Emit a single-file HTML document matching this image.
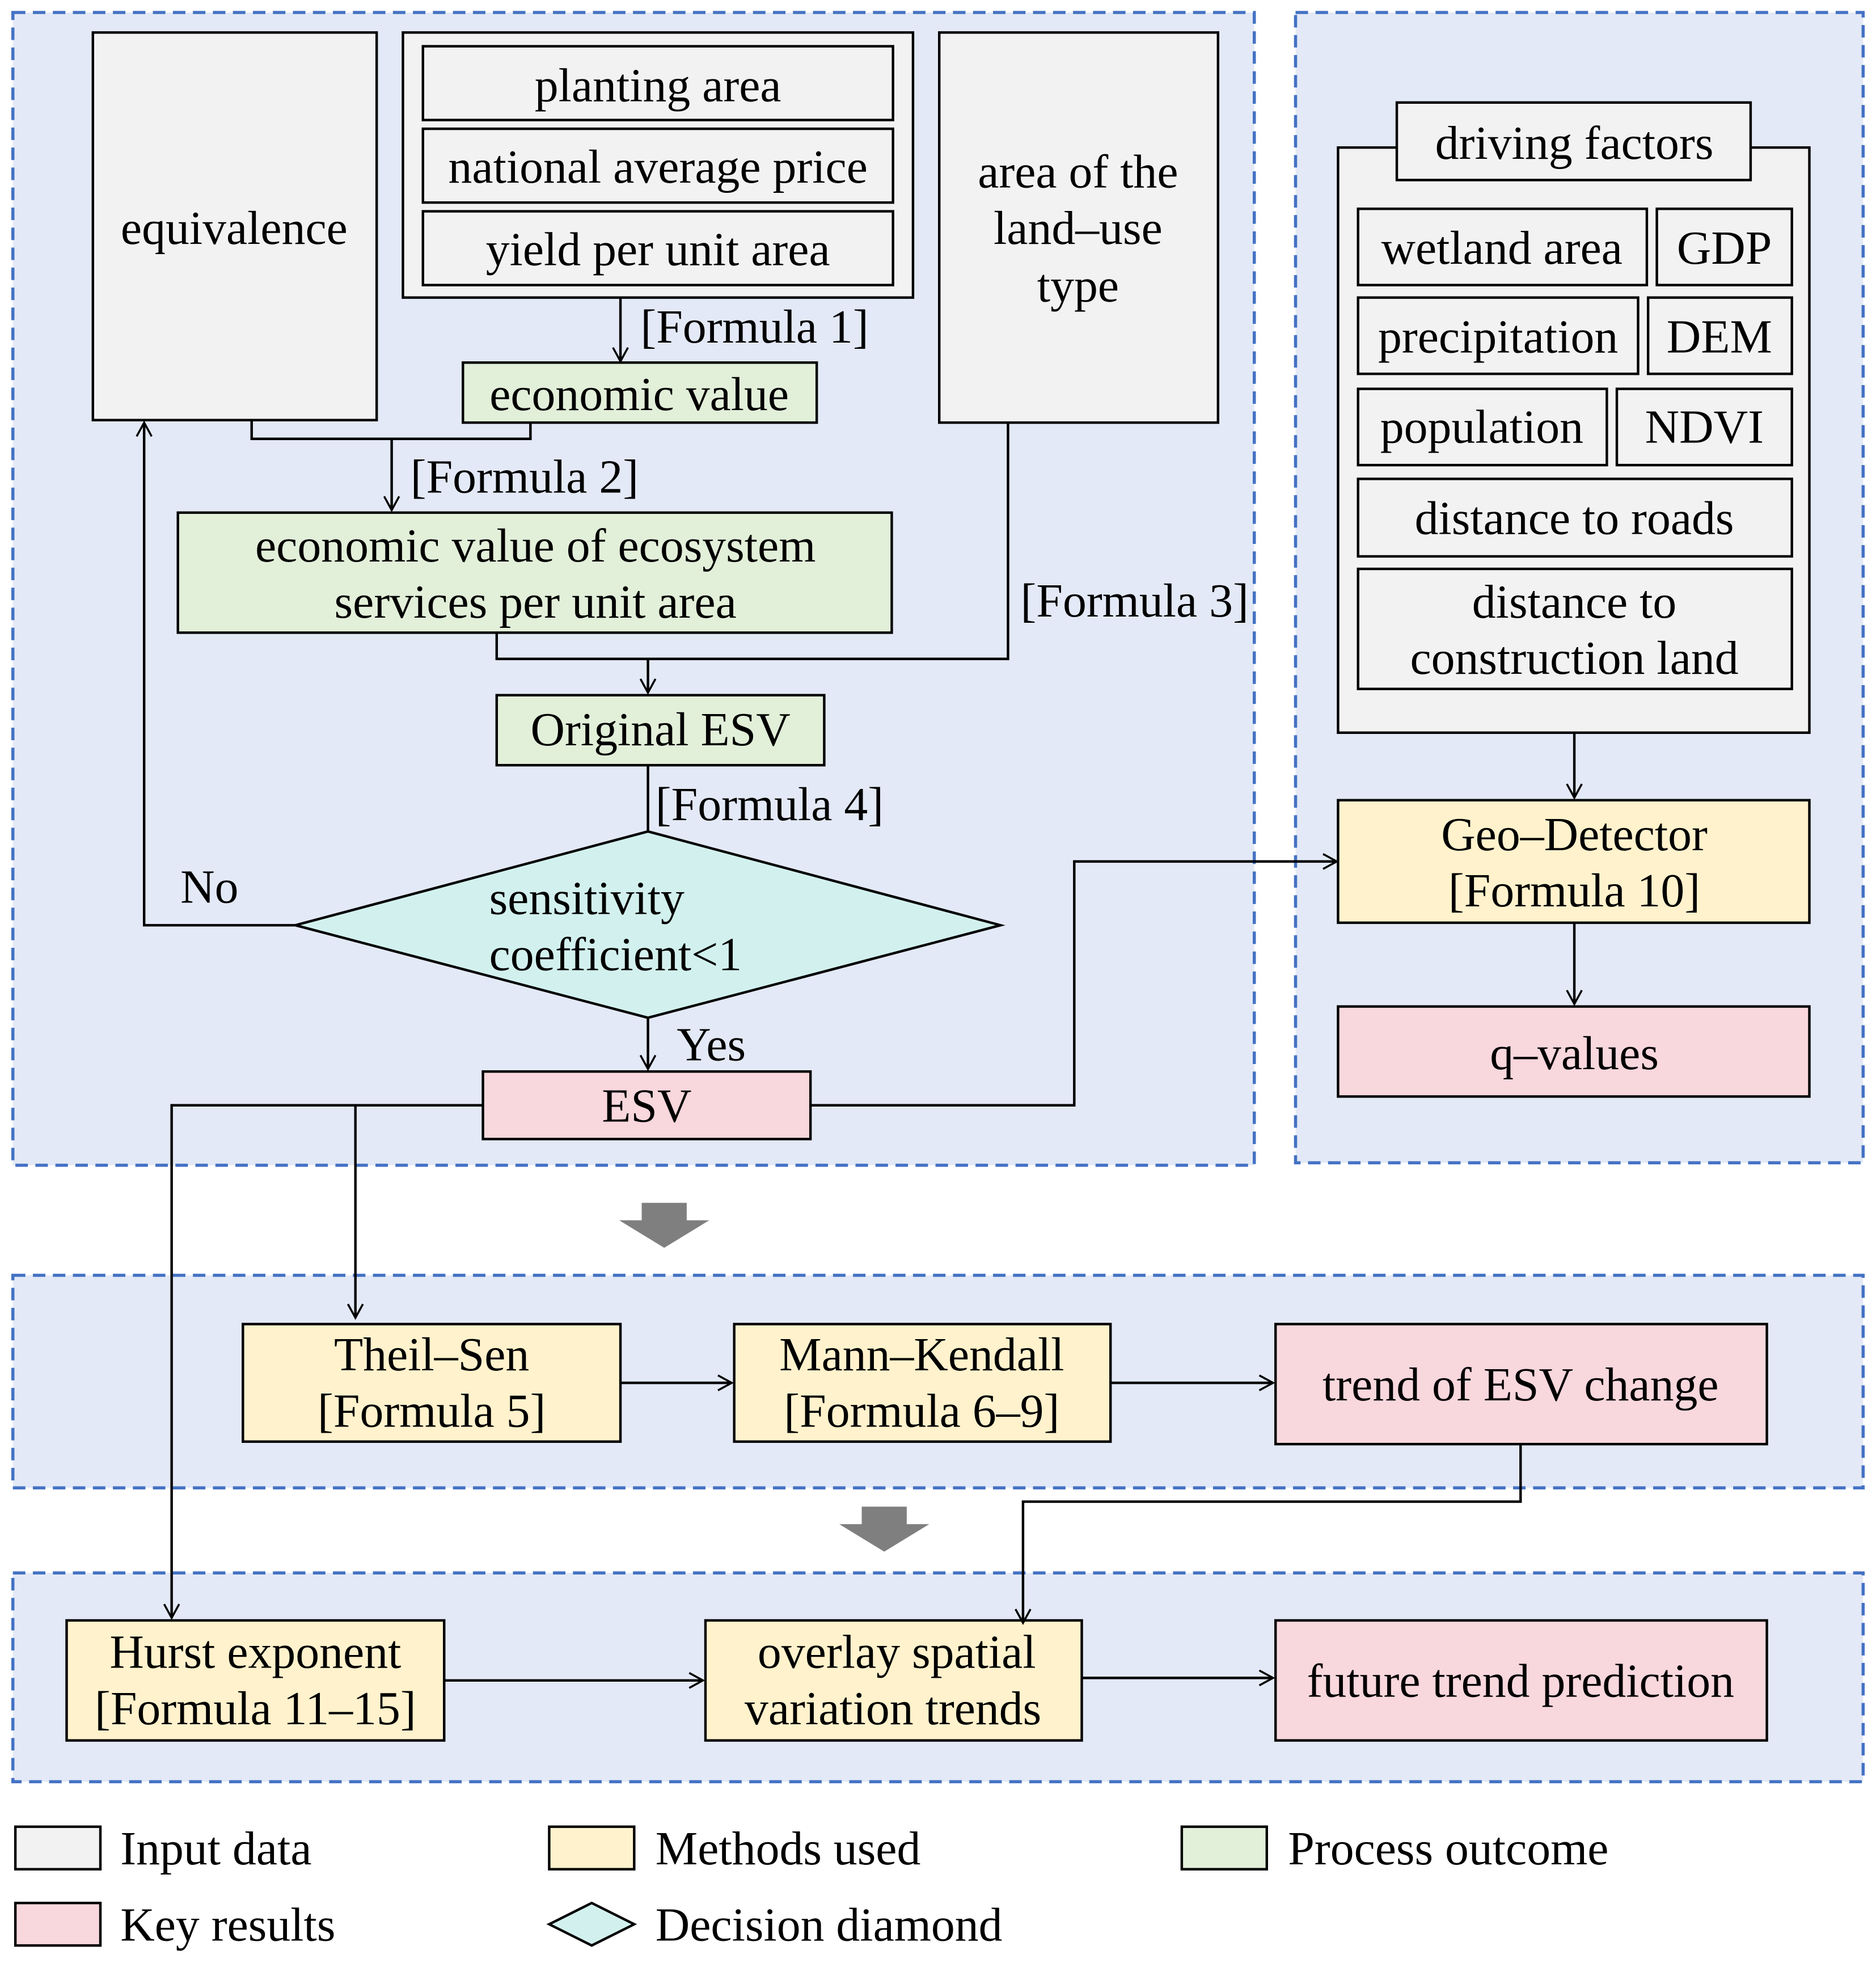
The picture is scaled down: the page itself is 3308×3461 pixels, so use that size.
<!DOCTYPE html>
<html><head><meta charset="utf-8"><style>html,body{margin:0;padding:0;background:#fff}svg{display:block}</style></head>
<body>
<svg xmlns="http://www.w3.org/2000/svg" width="3308" height="3461" viewBox="0 0 1500 1570" font-family="'Liberation Serif', serif" font-size="38">
<defs>
<marker id="a" markerWidth="14" markerHeight="14" refX="12" refY="7" orient="auto" markerUnits="userSpaceOnUse"><path d="M1,1 L12,7 L1,13" fill="none" stroke="#000" stroke-width="1.6"/></marker>
</defs>
<rect width="1500" height="1570" fill="#fff"/>
<g fill="#e3e9f6" stroke="#4472c4" stroke-width="2.5" stroke-dasharray="10,6">
<rect x="10" y="10" width="993" height="922"/>
<rect x="1036" y="10" width="454" height="920"/>
<rect x="10" y="1020" width="1480" height="170"/>
<rect x="10" y="1258" width="1480" height="167"/>
</g>
<g stroke="#000" stroke-width="2">
<rect x="74" y="26" width="227" height="310" fill="#f2f2f2"/>
<rect x="322" y="26" width="408" height="212" fill="#f2f2f2"/>
<rect x="338" y="37" width="376" height="59" fill="#f2f2f2"/>
<rect x="338" y="103" width="376" height="59" fill="#f2f2f2"/>
<rect x="338" y="169" width="376" height="59" fill="#f2f2f2"/>
<rect x="751" y="26" width="223" height="312" fill="#f2f2f2"/>
<rect x="370" y="290" width="283" height="48" fill="#e2efd9"/>
<rect x="142" y="410" width="571" height="96" fill="#e2efd9"/>
<rect x="397" y="556" width="262" height="56" fill="#e2efd9"/>
<polygon points="236,740 518,665 800,740 518,814" fill="#d2f1ee"/>
<rect x="386" y="857" width="262" height="54" fill="#f8d7dd"/>
<rect x="1070" y="118" width="377" height="468" fill="#f2f2f2"/>
<rect x="1117" y="82" width="283" height="62" fill="#f2f2f2"/>
<rect x="1086" y="167" width="231" height="61" fill="#f2f2f2"/>
<rect x="1325" y="167" width="108" height="61" fill="#f2f2f2"/>
<rect x="1086" y="238" width="224" height="61" fill="#f2f2f2"/>
<rect x="1318" y="238" width="115" height="61" fill="#f2f2f2"/>
<rect x="1086" y="311" width="199" height="61" fill="#f2f2f2"/>
<rect x="1293" y="311" width="140" height="61" fill="#f2f2f2"/>
<rect x="1086" y="383" width="347" height="62" fill="#f2f2f2"/>
<rect x="1086" y="455" width="347" height="96" fill="#f2f2f2"/>
<rect x="1070" y="640" width="377" height="98" fill="#fff2cc"/>
<rect x="1070" y="805" width="377" height="72" fill="#f8d7dd"/>
<rect x="194" y="1059" width="302" height="94" fill="#fff2cc"/>
<rect x="587" y="1059" width="301" height="94" fill="#fff2cc"/>
<rect x="1020" y="1059" width="393" height="96" fill="#f8d7dd"/>
<rect x="53" y="1296" width="302" height="96" fill="#fff2cc"/>
<rect x="564" y="1296" width="301" height="96" fill="#fff2cc"/>
<rect x="1020" y="1296" width="393" height="96" fill="#f8d7dd"/>
</g>
<g stroke="#000" stroke-width="2" fill="none">
<line x1="496" y1="238" x2="496" y2="289" marker-end="url(#a)"/>
<polyline points="201,336 201,351 424,351 424,338"/>
<line x1="313" y1="351" x2="313" y2="408" marker-end="url(#a)"/>
<polyline points="397,506 397,527 806,527 806,338"/>
<line x1="518" y1="527" x2="518" y2="554" marker-end="url(#a)"/>
<line x1="518" y1="612" x2="518" y2="665"/>
<polyline points="236,740 115,740 115,338" marker-end="url(#a)"/>
<line x1="518" y1="814" x2="518" y2="855" marker-end="url(#a)"/>
<polyline points="648,884 859,884 859,689 1069,689" marker-end="url(#a)"/>
<polyline points="386,884 137,884 137,1294" marker-end="url(#a)"/>
<line x1="284" y1="884" x2="284" y2="1054" marker-end="url(#a)"/>
<line x1="1259" y1="586" x2="1259" y2="638" marker-end="url(#a)"/>
<line x1="1259" y1="738" x2="1259" y2="803" marker-end="url(#a)"/>
<line x1="496" y1="1106" x2="585" y2="1106" marker-end="url(#a)"/>
<line x1="888" y1="1106" x2="1018" y2="1106" marker-end="url(#a)"/>
<polyline points="1216,1155 1216,1201 818,1201 818,1298" marker-end="url(#a)"/>
<line x1="355" y1="1344" x2="562" y2="1344" marker-end="url(#a)"/>
<line x1="865" y1="1342" x2="1018" y2="1342" marker-end="url(#a)"/>
</g>
<g fill="#7f7f7f">
<polygon points="513,962 549,962 549,976 567,976 531,998 495,976 513,976"/>
<polygon points="689,1205 725,1205 725,1219 743,1219 707,1241 671,1219 689,1219"/>
</g>
<g text-anchor="middle" fill="#000">
<text x="187" y="195">equivalence</text>
<text x="526" y="81">planting area</text>
<text x="526" y="146">national average price</text>
<text x="526" y="212">yield per unit area</text>
<text x="862" y="150">area of the</text>
<text x="862" y="195">land–use</text>
<text x="862" y="241">type</text>
<text x="511" y="328">economic value</text>
<text x="428" y="449">economic value of ecosystem</text>
<text x="428" y="494">services per unit area</text>
<text x="528" y="596">Original ESV</text>
<text x="517" y="897">ESV</text>
<text x="1259" y="127">driving factors</text>
<text x="1201" y="211">wetland area</text>
<text x="1379" y="211">GDP</text>
<text x="1198" y="282">precipitation</text>
<text x="1375" y="282">DEM</text>
<text x="1185" y="354">population</text>
<text x="1363" y="354">NDVI</text>
<text x="1259" y="427">distance to roads</text>
<text x="1259" y="494">distance to</text>
<text x="1259" y="539">construction land</text>
<text x="1259" y="680">Geo–Detector</text>
<text x="1259" y="725">[Formula 10]</text>
<text x="1259" y="855">q–values</text>
<text x="345" y="1096">Theil–Sen</text>
<text x="345" y="1141">[Formula 5]</text>
<text x="737" y="1096">Mann–Kendall</text>
<text x="737" y="1141">[Formula 6–9]</text>
<text x="1216" y="1120">trend of ESV change</text>
<text x="204" y="1334">Hurst exponent</text>
<text x="204" y="1379">[Formula 11–15]</text>
<text x="717" y="1334">overlay spatial</text>
<text x="714" y="1379">variation trends</text>
<text x="1216" y="1357">future trend prediction</text>
</g>
<g fill="#000">
<text x="512" y="274">[Formula 1]</text>
<text x="328" y="394">[Formula 2]</text>
<text x="816" y="493">[Formula 3]</text>
<text x="524" y="656">[Formula 4]</text>
<text x="391" y="731">sensitivity</text>
<text x="391" y="776">coefficient&lt;1</text>
<text x="144" y="722">No</text>
<text x="541" y="848">Yes</text>
<text x="96" y="1491">Input data</text>
<text x="524" y="1491">Methods used</text>
<text x="1030" y="1491">Process outcome</text>
<text x="96" y="1552">Key results</text>
<text x="524" y="1552">Decision diamond</text>
</g>
<g stroke="#000" stroke-width="2">
<rect x="12" y="1461" width="68" height="34" fill="#f2f2f2"/>
<rect x="439" y="1461" width="68" height="34" fill="#fff2cc"/>
<rect x="945" y="1461" width="68" height="34" fill="#e2efd9"/>
<rect x="12" y="1522" width="68" height="34" fill="#f8d7dd"/>
<polygon points="439,1539 473,1522 507,1539 473,1556" fill="#d2f1ee"/>
</g>
</svg>
</body></html>
